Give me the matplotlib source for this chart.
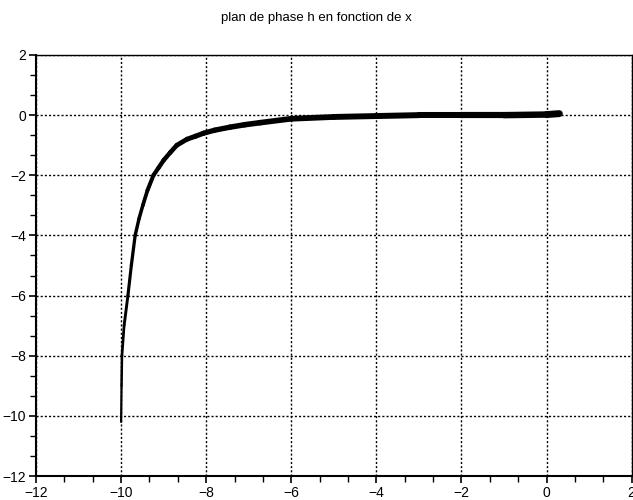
import numpy as np
import matplotlib
matplotlib.use("Agg")
import matplotlib.pyplot as plt
from matplotlib.collections import LineCollection
from matplotlib.ticker import MultipleLocator, AutoMinorLocator

plt.rcParams['font.family'] = ['Liberation Sans', 'DejaVu Sans']

# trajectory (x, h)
x_vals = [-10.00, -9.99, -9.98, -9.93, -9.84, -9.76, -9.67, -9.58, -9.49,
          -9.38, -9.24, -9.12, -9.00, -8.85, -8.69, -8.45, -8.25, -8.06,
          -7.80, -7.44, -7.10, -6.73, -6.00, -5.00, -4.00, -3.00, -2.00,
          -1.00, 0.00, 0.30]
h_vals = [-10.2, -9.0, -8.0, -7.0, -6.0, -5.0, -4.0, -3.45, -3.0,
          -2.5, -2.0, -1.75, -1.5, -1.25, -1.0, -0.8, -0.7, -0.6,
          -0.5, -0.4, -0.32, -0.25, -0.12, -0.06, -0.03, 0.0, 0.0,
          0.0, 0.02, 0.05]
# apparent thickness of the noisy trace (points)
band = [1.5, 1.7, 1.9, 2.0, 2.2, 2.3, 2.4, 2.5, 2.6,
        2.8, 3.0, 3.1, 3.2, 3.3, 3.4, 3.5, 3.6, 3.7,
        3.8, 3.9, 4.0, 4.0, 4.1, 4.2, 4.3, 4.3, 4.4,
        4.5, 4.8, 5.2]

title = "plan de phase h en fonction de x"

fig = plt.figure(figsize=(6.33, 5.0), dpi=100)
ax = fig.add_axes([0.0569, 0.048, 0.941, 0.842])

pts = np.column_stack([x_vals, h_vals]).reshape(-1, 1, 2)
segs = np.concatenate([pts[:-1], pts[1:]], axis=1)
widths = [(band[i] + band[i + 1]) / 2 for i in range(len(band) - 1)]
lc = LineCollection(segs, linewidths=widths, colors='black', capstyle='round',
                    joinstyle='round', zorder=3)
ax.add_collection(lc)

ax.set_xlim(-12, 2)
ax.set_ylim(-12, 2)
ax.xaxis.set_major_locator(MultipleLocator(2))
ax.yaxis.set_major_locator(MultipleLocator(2))
ax.xaxis.set_minor_locator(AutoMinorLocator(3))
ax.yaxis.set_minor_locator(AutoMinorLocator(3))

ax.grid(which='major', color='black', linestyle=(0, (1.5, 1.5)), linewidth=1.0)

for side in ['left', 'bottom']:
    ax.spines[side].set_linewidth(1.5)
for side in ['top', 'right']:
    ax.spines[side].set_linewidth(1.0)

ax.tick_params(which='major', direction='out', length=5, width=1.2,
               labelsize=10, pad=2, top=False, right=False)
ax.tick_params(which='minor', direction='out', length=4, width=1.0,
               top=False, right=False)

fig.text(0.5, 0.964, title, ha='center', va='center', fontsize=9.5)

fig.savefig("out.png", dpi=100)
